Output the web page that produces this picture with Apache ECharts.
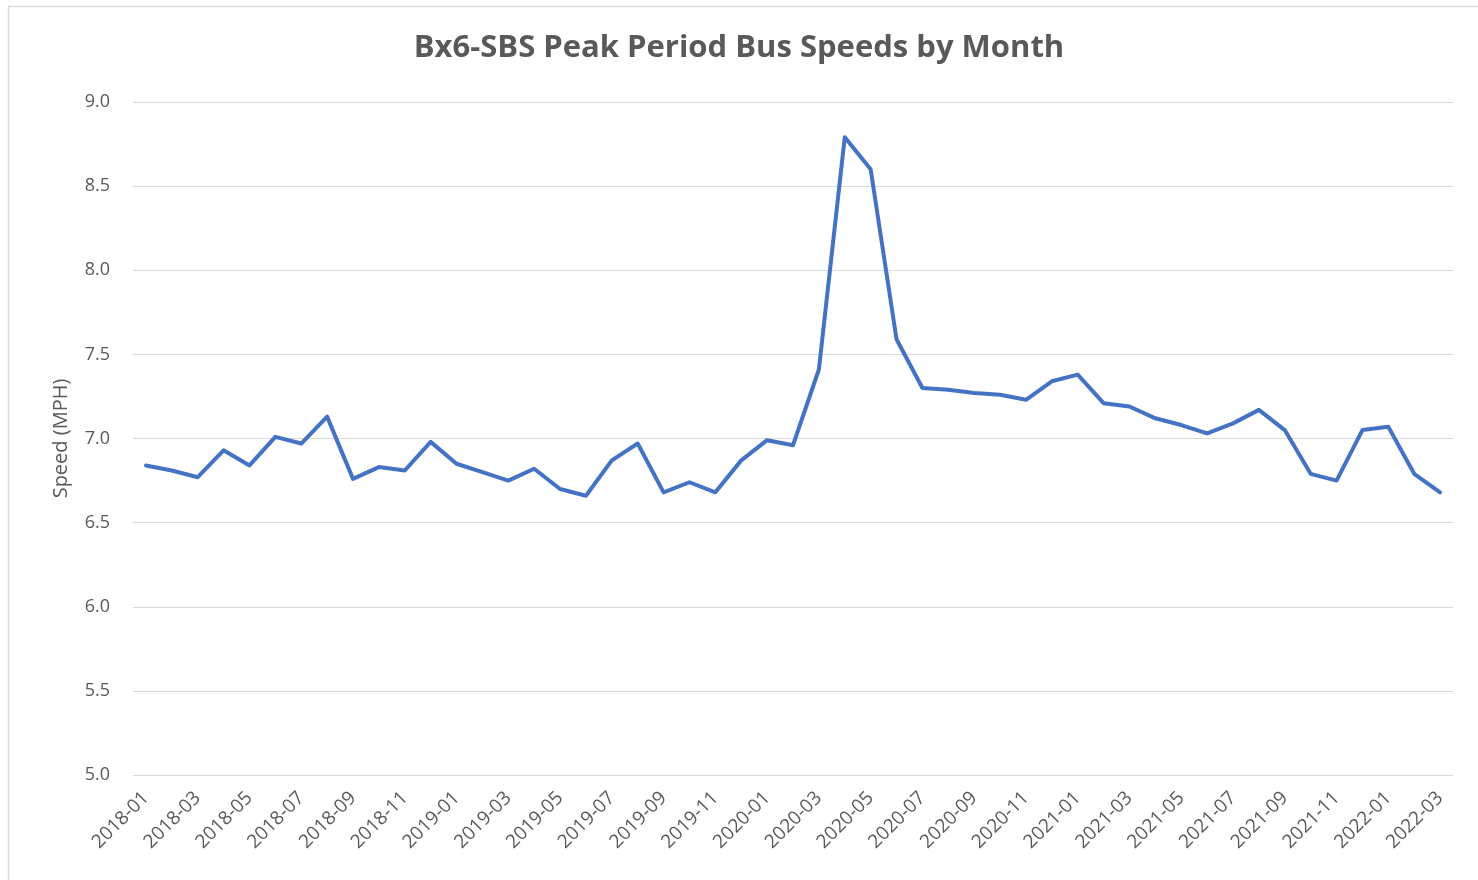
<!DOCTYPE html>
<html>
<head>
<meta charset="utf-8">
<script src="https://cdn.jsdelivr.net/npm/echarts@6/dist/echarts.min.js"></script>
<style>
  html, body { margin: 0; padding: 0; background: #fff; }
  #chartDom { width: 1478px; height: 880px; }
</style>
</head>
<body>
<div id="chartDom"></div>
<script>
// monthly peak period speeds, 2018-01 .. 2022-03
var months = [
  '2018-01','2018-02','2018-03','2018-04','2018-05','2018-06','2018-07','2018-08','2018-09','2018-10','2018-11','2018-12',
  '2019-01','2019-02','2019-03','2019-04','2019-05','2019-06','2019-07','2019-08','2019-09','2019-10','2019-11','2019-12',
  '2020-01','2020-02','2020-03','2020-04','2020-05','2020-06','2020-07','2020-08','2020-09','2020-10','2020-11','2020-12',
  '2021-01','2021-02','2021-03','2021-04','2021-05','2021-06','2021-07','2021-08','2021-09','2021-10','2021-11','2021-12',
  '2022-01','2022-02','2022-03'
];
var speeds = [
  6.84, 6.81, 6.77, 6.93, 6.84, 7.01, 6.97, 7.13, 6.76, 6.83, 6.81, 6.98,
  6.85, 6.80, 6.75, 6.82, 6.70, 6.66, 6.87, 6.97, 6.68, 6.74, 6.68, 6.87,
  6.99, 6.96, 7.41, 8.79, 8.60, 7.59, 7.30, 7.29, 7.27, 7.26, 7.23, 7.34,
  7.38, 7.21, 7.19, 7.12, 7.08, 7.03, 7.09, 7.17, 7.05, 6.79, 6.75, 7.05,
  7.07, 6.79, 6.68
];
var yTicks = [5.0, 5.5, 6.0, 6.5, 7.0, 7.5, 8.0, 8.5, 9.0];

var chartDom = document.getElementById('chartDom');
var myChart = echarts.init(chartDom);
var option = {
  animation: false,
  title: {
    text: 'Bx6-SBS Peak Period Bus Speeds by Month',
    left: 'center',
    top: 28,
    textStyle: {
      fontFamily: 'Open Sans',
      fontSize: 31,
      fontWeight: 'bold',
      color: '#595959'
    }
  },
  graphic: [
    {
      type: 'rect',
      shape: { x: 8.5, y: 6.5, width: 1500, height: 900 },
      style: { fill: 'none', stroke: '#d9d9d9', lineWidth: 1.5 },
      silent: true
    }
  ],
  grid: {
    left: 133,
    right: 25,
    top: 102,
    bottom: 105
  },
  xAxis: {
    type: 'category',
    data: months,
    boundaryGap: true,
    axisLine: { show: false },
    axisTick: { show: false },
    axisLabel: {
      interval: 1,
      rotate: 45,
      margin: 20,
      color: '#595959',
      fontFamily: 'Open Sans',
      fontSize: 19
    }
  },
  yAxis: {
    type: 'value',
    min: yTicks[0],
    max: yTicks[yTicks.length - 1],
    interval: 0.5,
    name: 'Speed (MPH)',
    nameLocation: 'middle',
    nameGap: 62,
    nameTextStyle: {
      color: '#595959',
      fontFamily: 'Open Sans',
      fontSize: 20
    },
    axisLine: { show: false },
    axisTick: { show: false },
    axisLabel: {
      margin: 23,
      color: '#595959',
      fontFamily: 'Open Sans',
      fontSize: 18,
      formatter: function (v) { return v.toFixed(1); }
    },
    splitLine: {
      lineStyle: { color: '#d9d9d9', width: 1.2 }
    }
  },
  series: [
    {
      name: 'Speed',
      type: 'line',
      data: speeds,
      symbol: 'none',
      lineStyle: { color: '#4472C4', width: 4, join: 'round', cap: 'round' }
    }
  ]
};
option && myChart.setOption(option);
</script>
</body>
</html>
